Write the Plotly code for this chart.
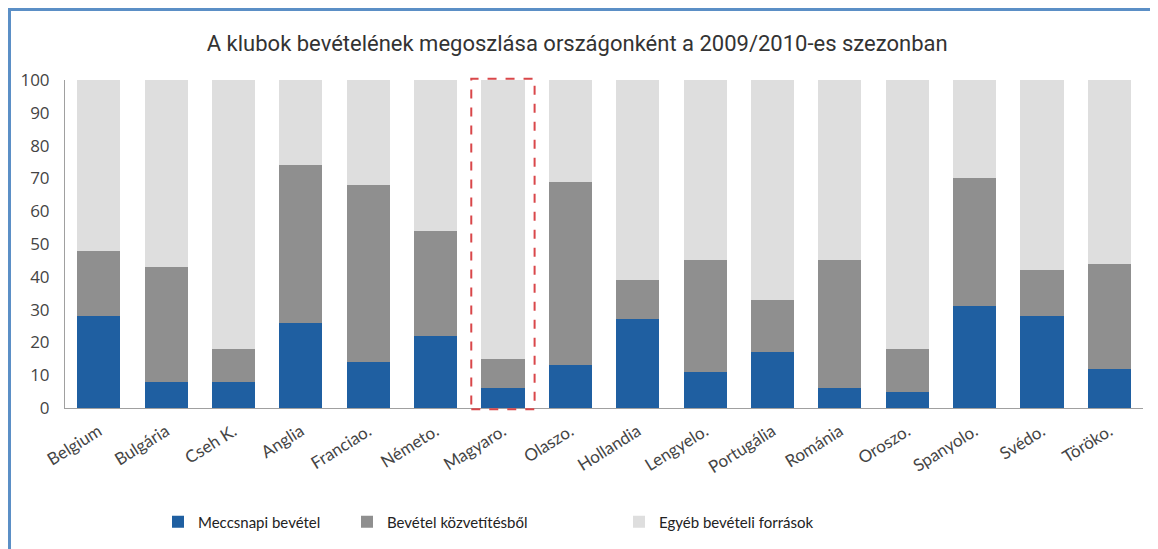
"""Stacked bar chart: club revenue split by country, 2009/2010 season."""

import plotly.graph_objects as go

COUNTRIES = [
    "Belgium", "Bulgária", "Cseh K.", "Anglia", "Franciao.", "Németo.",
    "Magyaro.", "Olaszo.", "Hollandia", "Lengyelo.", "Portugália",
    "Románia", "Oroszo.", "Spanyolo.", "Svédo.", "Töröko.",
]
MATCHDAY = [28, 8, 8, 26, 14, 22, 6, 13, 27, 11, 17, 6, 5, 31, 28, 12]
BROADCAST = [20, 35, 10, 48, 54, 32, 9, 56, 12, 34, 16, 39, 13, 39, 14, 32]
OTHER = [52, 57, 82, 26, 32, 46, 85, 31, 61, 55, 67, 55, 82, 30, 58, 56]

SERIES = [
    ("Meccsnapi bevétel", MATCHDAY, "#1f5fa1"),
    ("Bevétel közvetítésből", BROADCAST, "#8f8f8f"),
    ("Egyéb bevételi források", OTHER, "#dedede"),
]
HIGHLIGHT = "Magyaro."

# page body adds an 8px margin, so the figure is a bit smaller than the window
W, H = 1150, 541
M = dict(l=57, r=15, t=72, b=141)
PW = W - M["l"] - M["r"]
PH = H - M["t"] - M["b"]
LEGEND_X = [150, 339, 611]  # left edge of each legend entry, px


def px_x(p):
    return (p - M["l"]) / PW


def px_y(p):
    return (H - M["b"] - p) / PH


fig = go.Figure()
legend_names = ["legend", "legend2", "legend3"]
for (name, vals, color), lg in zip(SERIES, legend_names):
    fig.add_trace(go.Bar(x=COUNTRIES, y=vals, name=name, marker_color=color,
                         marker_line_width=0, legend=lg))

idx = COUNTRIES.index(HIGHLIGHT)
shapes = [
    # blue border along the top and left edges
    dict(type="line", xref="paper", yref="paper", x0=px_x(0), x1=px_x(W + 5),
         y0=px_y(1.5), y1=px_y(1.5), line=dict(color="#5b8fc6", width=3)),
    dict(type="line", xref="paper", yref="paper", x0=px_x(1.5), x1=px_x(1.5),
         y0=px_y(H + 5), y1=px_y(0), line=dict(color="#5b8fc6", width=3)),
    # dashed highlight around Hungary
    dict(type="rect", xref="x", yref="paper", x0=idx - 0.47, x1=idx + 0.47,
         y0=-0.004, y1=1.004, line=dict(color="#d9474a", width=2, dash="dash")),
]

legend_style = dict(
    orientation="h", xref="container", yref="container",
    xanchor="left", y=1 - 514 / H, yanchor="middle",
    font=dict(family="Lato", size=15, color="#222222"),
    bgcolor="rgba(0,0,0,0)",
)

fig.update_layout(
    width=W,
    height=H,
    barmode="stack",
    bargap=0.36,
    margin=M,
    paper_bgcolor="white",
    plot_bgcolor="white",
    shapes=shapes,
    title=dict(
        text="A klubok bevételének megoszlása országonként a 2009/2010-es szezonban",
        x=0.495, xref="container", xanchor="center", y=1 - 35 / H, yanchor="middle",
        font=dict(family="Roboto", size=22, color="#333333"),
    ),
    legend=dict(legend_style, x=LEGEND_X[0] / W),
    legend2=dict(legend_style, x=LEGEND_X[1] / W),
    legend3=dict(legend_style, x=LEGEND_X[2] / W),
    showlegend=True,
)
fig.update_xaxes(
    range=[-0.5, len(COUNTRIES) - 0.5],
    tickangle=-32,
    tickfont=dict(family="Lato", size=17, color="#444444"),
    showline=True, linecolor="#a0a0a0", linewidth=1,
    showgrid=False, ticks="", automargin=False,
    ticklabelstandoff=6,
)
fig.update_yaxes(
    range=[0, 100],
    dtick=10,
    tickfont=dict(family="Open Sans", size=17, color="#444444"),
    showline=True, linecolor="#a0a0a0", linewidth=1,
    showgrid=False, zeroline=False, ticks="", automargin=False,
    ticklabelstandoff=11,
)

fig.write_html("out.html")
